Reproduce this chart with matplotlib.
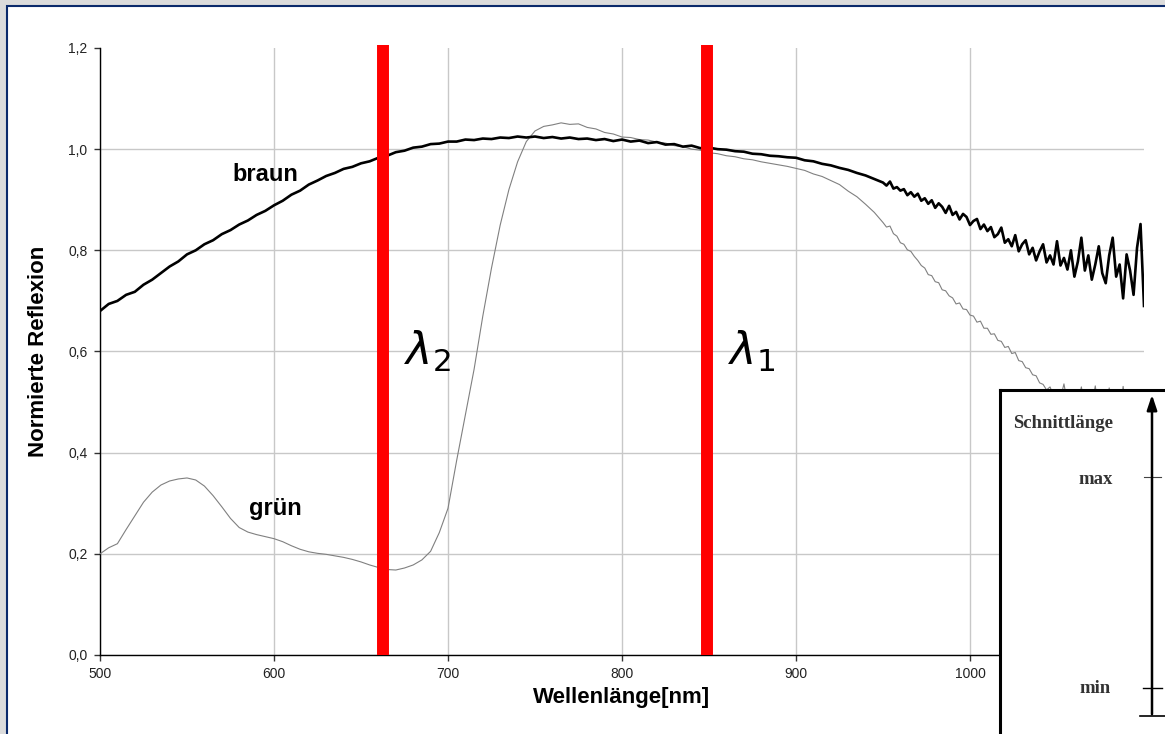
import numpy as np
import matplotlib
matplotlib.use("Agg")
import matplotlib.pyplot as plt
from matplotlib.patches import Rectangle

plt.rcParams['font.family'] = ['Liberation Sans', 'DejaVu Sans']

# wavelength grids: 5 nm steps up to 945 nm, 2 nm steps for the noisy tail
nm_smooth = np.arange(500, 950, 5)
nm_tail = np.arange(950, 1101, 2)

# "braun" reflection
braun_smooth = [
    .680, .694, .700, .712, .718, .732, .742, .755, .768, .778,   # 500-545
    .792, .800, .812, .820, .832, .840, .851, .859, .870, .878,   # 550-595
    .889, .898, .910, .918, .930, .938, .947, .953, .961, .965,   # 600-645
    .972, .976, .983, .987, .994, .997, 1.003, 1.005, 1.010, 1.011,   # 650-695
    1.015, 1.015, 1.019, 1.018, 1.021, 1.020, 1.023, 1.022, 1.025, 1.023,  # 700-745
    1.025, 1.022, 1.024, 1.021, 1.023, 1.020, 1.021, 1.018, 1.020, 1.016,  # 750-795
    1.019, 1.015, 1.017, 1.012, 1.014, 1.009, 1.010, 1.005, 1.007, 1.002,  # 800-845
    1.003, 1.000, .999, .996, .995, .991, .990, .987, .986, .984,  # 850-895
    .983, .978, .976, .971, .968, .963, .959, .953, .948, .941,   # 900-945
]
braun_tail = [
    .934, .928, .936, .922, .925, .918,   # 950-960
    .921, .909, .915, .906, .912, .898,   # 962-972
    .903, .892, .899, .884, .893, .886,   # 974-984
    .874, .888, .870, .876, .861, .872,   # 986-996
    .866, .850, .858, .862, .842, .851,   # 998-1008
    .838, .846, .826, .832, .845, .815,   # 1010-1020
    .822, .808, .830, .798, .812, .820,   # 1022-1032
    .792, .805, .780, .798, .812, .776,   # 1034-1044
    .790, .772, .818, .770, .785, .762,   # 1046-1056
    .800, .748, .778, .825, .760, .790,   # 1058-1068
    .742, .772, .808, .755, .735, .790,   # 1070-1080
    .825, .748, .772, .705, .792, .760,   # 1082-1092
    .712, .805, .852, .690,               # 1094-1100
]

# "grün" reflection
gruen_smooth = [
    .200, .212, .220, .248, .275, .302, .322, .336, .344, .348,   # 500-545
    .350, .346, .334, .315, .293, .270, .252, .243, .238, .234,   # 550-595
    .230, .224, .216, .209, .204, .201, .199, .196, .193, .189,   # 600-645
    .184, .178, .173, .169, .168, .172, .178, .188, .205, .242,   # 650-695
    .290, .385, .475, .565, .670, .765, .850, .920, .975, 1.015,  # 700-745
    1.036, 1.045, 1.048, 1.052, 1.049, 1.050, 1.043, 1.040, 1.033, 1.030,  # 750-795
    1.024, 1.023, 1.019, 1.018, 1.014, 1.012, 1.007, 1.005, 1.000, .998,  # 800-845
    .993, .991, .987, .985, .981, .979, .975, .972, .969, .966,   # 850-895
    .962, .958, .951, .946, .938, .930, .917, .906, .891, .875,   # 900-945
]
gruen_tail = [
    .855, .846, .848, .833, .828, .815,
    .812, .801, .798, .788, .780, .770,
    .765, .752, .750, .738, .736, .722,
    .720, .710, .706, .694, .696, .684,
    .683, .672, .670, .658, .660, .646,
    .646, .634, .635, .622, .620, .608,
    .610, .596, .598, .582, .580, .568,
    .566, .554, .552, .538, .535, .524,
    .530, .512, .520, .508, .536, .498,
    .505, .512, .494, .530, .488, .500,
    .492, .532, .480, .486, .478, .528,
    .476, .484, .470, .531, .474, .468,
    .480, .466, .470, .462,
]

lambda_nm = [662.6, 848.9]   # positions of the red markers
lambda_txt = [r'$\lambda_2$', r'$\lambda_1$']

nm_all = np.concatenate([nm_smooth, nm_tail])
braun = np.concatenate([braun_smooth, braun_tail])
gruen = np.concatenate([gruen_smooth, gruen_tail])

W, H = 1165, 734
fig = plt.figure(figsize=(W / 100, H / 100), dpi=100, facecolor='#dcdcdc')

# white panel with navy frame, behind everything
panel = Rectangle((7 / W, -0.05), 1.2, 1 - 6 / H + 0.05, transform=fig.transFigure,
                  facecolor='white', edgecolor='#0b2a6b', lw=1.5, zorder=-10)
fig.add_artist(panel)

ax = fig.add_axes([100 / W, 79 / H, 1044 / W, 607 / H])
ax.set_facecolor('none')
ax.plot(nm_all, gruen, color='#808080', lw=0.8, zorder=3)
ax.plot(nm_all, braun, color='black', lw=1.9, zorder=4)
ax.vlines(lambda_nm, 0, 1.205, color='#ff0000', lw=8.6, zorder=6, clip_on=False)

ax.set_xlim(500, 1100)
ax.set_ylim(0, 1.2)
ax.set_xticks(np.arange(500, 1001, 100))
ax.set_yticks(np.arange(0, 1.21, 0.2))
ax.set_yticklabels([f'{v:.1f}'.replace('.', ',') for v in np.arange(0, 1.21, 0.2)])
ax.grid(True, color='#c8c8c8', lw=1.0, zorder=1)
ax.yaxis.get_gridlines()[-1].set_visible(False)
ax.set_axisbelow(True)
for s in ['top', 'right']:
    ax.spines[s].set_visible(False)
for s in ['left', 'bottom']:
    ax.spines[s].set_color('black')
    ax.spines[s].set_linewidth(1.0)
ax.tick_params(length=4, width=1, color='#333333', labelsize=10, labelcolor='#222222', pad=5)

ax.set_xlabel('Wellenlänge[nm]', fontsize=16, fontweight='bold', labelpad=4)
ax.set_ylabel('Normierte Reflexion', fontsize=16, fontweight='bold', labelpad=14)

ax.text(595, 0.949, 'braun', fontsize=17, fontweight='bold', ha='center', va='center')
ax.text(601, 0.29, 'grün', fontsize=17, fontweight='bold', ha='center', va='center')
for x, t in zip(lambda_nm, lambda_txt):
    ax.text(x + 12, 0.60, t, fontsize=32, ha='left', va='center', zorder=7)

# inset with the "Schnittlänge" scale, in pixel coordinates
ins = fig.add_axes([1000 / W, 0, 170 / W, 344 / H])
ins.set_xlim(1000, 1170)
ins.set_ylim(734, 390)
ins.set_xticks([])
ins.set_yticks([])
ins.set_facecolor('white')
ins.set_zorder(10)
for s in ['right', 'bottom']:
    ins.spines[s].set_visible(False)
for s in ['left', 'top']:
    ins.spines[s].set_linewidth(2.2)
    ins.spines[s].set_color('black')
ins.annotate('', xy=(1152, 392), xytext=(1152, 717),
             arrowprops=dict(arrowstyle='-|>,head_length=0.9,head_width=0.3', lw=1.8, color='black'))
ins.plot([1144, 1161], [477, 477], color='#444444', lw=0.8)
ins.plot([1143, 1162], [688, 688], color='black', lw=1.0)
ins.plot([1140, 1166], [716, 716], color='black', lw=1.2)
serif = ['Liberation Serif', 'DejaVu Serif']
ins.text(1013, 423, 'Schnittlänge', family=serif, fontsize=13.5,
         fontweight='bold', color='#333333', ha='left', va='center')
ins.text(1096, 479, 'max', family=serif, fontsize=13.5,
         fontweight='bold', color='#333333', ha='center', va='center')
ins.text(1095, 688, 'min', family=serif, fontsize=13.5,
         fontweight='bold', color='#333333', ha='center', va='center')

fig.savefig('out.png', dpi=100, facecolor=fig.get_facecolor())
